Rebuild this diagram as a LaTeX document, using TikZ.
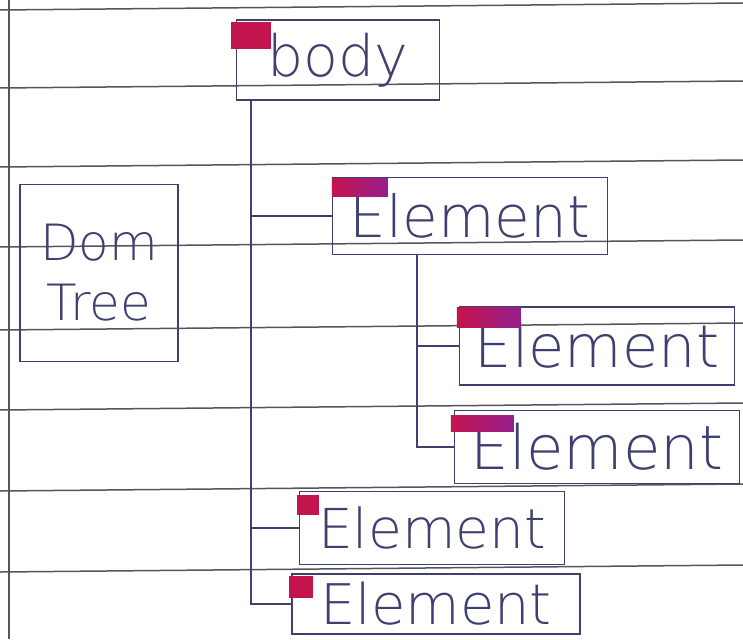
\documentclass[tikz,border=0pt]{standalone}
\usepackage{fontspec}
\newfontfamily\hand{DejaVu Sans ExtraLight}
\definecolor{ink}{RGB}{62,64,112}
\definecolor{ruleclr}{RGB}{85,85,95}
\definecolor{tabred}{RGB}{196,20,78}
\definecolor{tabpurple}{RGB}{150,30,140}
\begin{document}
\begin{tikzpicture}[x=1pt,y=-1pt,
  box/.style={draw=ink, line width=1.2pt, rectangle, inner sep=0pt, text=ink},
  ruleline/.style={draw=ruleclr, line width=1.5pt},
  conn/.style={draw=ink, line width=1.2pt},
  tab/.style={left color=tabred, right color=tabpurple, draw=none},
  bodytab/.style={fill=tabred, draw=none}]
\fill[white] (0,0) rectangle (743,639);
\useasboundingbox (0,0) rectangle (743,639);
% notebook ruling
\foreach \y in {10,88,167,247,330,410,491,572}
  \draw[ruleline] (0,\y) -- (743,\y-7);
\draw[ruleline] (9,0) -- (9,639);
% nodes
\node[box, minimum width=203pt, minimum height=80pt, font=\hand\fontsize{57}{57}\selectfont] (body) at (338,60) {body};
\node[box, minimum width=158pt, minimum height=177pt, align=center, font=\hand\fontsize{50}{60}\selectfont] (dom) at (99,273) {Dom\\Tree};
\node[box, minimum width=275pt, minimum height=77pt, font=\hand\fontsize{58}{58}\selectfont] (E1) at (470,216) {Element};
\node[box, minimum width=275pt, minimum height=78pt, font=\hand\fontsize{59}{59}\selectfont] (E2) at (597,346) {Element};
\node[box, minimum width=285pt, minimum height=73pt, font=\hand\fontsize{61}{61}\selectfont] (E3) at (597,447) {Element};
\node[box, minimum width=265pt, minimum height=73pt, font=\hand\fontsize{55}{55}\selectfont] (E4) at (432,528) {Element};
\node[box, minimum width=288pt, minimum height=60pt, font=\hand\fontsize{56}{56}\selectfont] (E5) at (436,604) {Element};
% tabs
\fill[bodytab] ([shift={(-5,3)}]body.north west) rectangle +(40,27);
\fill[tab] ([shift={(0,2)}]E1.north west) rectangle +(56,18);
\fill[tab] ([shift={(-2,1)}]E2.north west) rectangle +(64,20);
\fill[tab] ([shift={(-3,6)}]E3.north west) rectangle +(63,16);
\fill[bodytab] ([shift={(-2,4)}]E4.north west) rectangle +(22,20);
\fill[bodytab] ([shift={(-2,3)}]E5.north west) rectangle +(24,22);
% connectors
\coordinate (t) at ([xshift=15pt]body.south west);
\draw[conn] (t) |- (E5.west);
\draw[conn] (E1.west) -- (E1.west -| t);
\draw[conn] (E4.west) -- (E4.west -| t);
\coordinate (t2) at ([xshift=85pt]E1.south west);
\draw[conn] (t2) |- (E3.west);
\draw[conn] (E2.west) -- (E2.west -| t2);
\end{tikzpicture}
\end{document}
